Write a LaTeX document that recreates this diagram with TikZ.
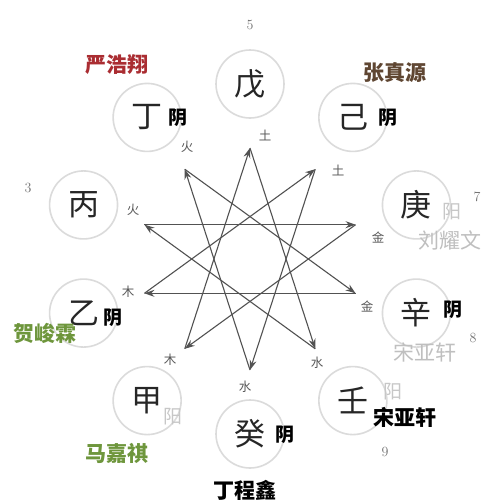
\documentclass[tikz,border=0pt]{standalone}
\usepackage{fontspec}
\newfontfamily\cjk{Noto Sans CJK SC}
\usetikzlibrary{calc,arrows.meta}
\begin{document}
\begin{tikzpicture}[x=1pt,y=1pt,
  stem/.style={circle,draw=black!14,line width=1.6pt,minimum size=68pt,inner sep=0pt,font=\cjk\fontsize{31}{31}\selectfont,text=black!85},
  elem/.style={font=\cjk\fontsize{12.5}{12.5}\selectfont,text=black!65},
  yin/.style={font=\cjk\bfseries\fontsize{19}{19}\selectfont,text=black},
  yang/.style={font=\cjk\fontsize{19}{19}\selectfont,text=black!22},
  num/.style={font=\fontsize{14}{14}\selectfont,text=black!55},
  nm/.style={font=\cjk\bfseries\fontsize{21}{21}\selectfont},
  faint/.style={font=\cjk\fontsize{21}{21}\selectfont,text=black!25},
  ke/.style={draw=black!68,line width=1.1pt,-{Stealth[length=10pt,width=7pt]}}
]
\useasboundingbox (0,0) rectangle (500,-504);
\fill[white] (0,0) rectangle (500,-504);
\coordinate (c) at (250,-259);
% circles
\node[stem] (wu)   at ($(c)+(90:175)$)  {戊};
\node[stem] (ding) at ($(c)+(126:175)$) {丁};
\node[stem] (bing) at ($(c)+(162:175)$) {丙};
\node[stem] (yi)   at ($(c)+(198:175)$) {乙};
\node[stem] (jia)  at ($(c)+(234:175)$) {甲};
\node[stem] (gui)  at ($(c)+(270:175)$) {癸};
\node[stem] (ren)  at ($(c)+(306:175)$) {壬};
\node[stem] (xin)  at ($(c)+(342:175)$) {辛};
\node[stem] (geng) at ($(c)+(18:175)$)  {庚};
\node[stem] (ji)   at ($(c)+(54:175)$)  {己};
% star vertices
\foreach \n/\a in {wu/90,ding/126,bing/162,yi/198,jia/234,gui/270,ren/306,xin/342,geng/18,ji/54}
  \coordinate (p\n) at ($(c)+(\a:111)$);
% control arrows
\draw[ke] (pjia) -- (pwu);
\draw[ke] (pwu) -- (pren);
\draw[ke] (pren) -- (pbing);
\draw[ke] (pbing) -- (pgeng);
\draw[ke] (pgeng) -- (pjia);
\draw[ke] (pyi) -- (pji);
\draw[ke] (pji) -- (pgui);
\draw[ke] (pgui) -- (pding);
\draw[ke] (pding) -- (pxin);
\draw[ke] (pxin) -- (pyi);
% element labels
\node[elem] (ewu)   at (265,-135) {土};
\node[elem] (eji)   at (338,-170) {土};
\node[elem] (egeng) at (378,-238) {金};
\node[elem] (exin)  at (367,-307) {金};
\node[elem] (eren)  at (317,-363) {水};
\node[elem] (egui)  at (245,-387) {水};
\node[elem] (ejia)  at (170,-360) {木};
\node[elem] (eyi)   at (128,-292) {木};
\node[elem] (ebing) at (133,-210) {火};
\node[elem] (eding) at (187,-147) {火};
% yin / yang
\node[yin]  (yding) at (178,-118) {阴};
\node[yin]  (yji)   at (388,-118) {阴};
\node[yang] (ygeng) at (452,-212) {阳};
\node[yin]  (yxin)  at (453,-310) {阴};
\node[yang] (yren)  at (393,-392) {阳};
\node[yin]  (ygui)  at (285,-435) {阴};
\node[yang] (yjia)  at (173,-417) {阳};
\node[yin]  (yyi)   at (113,-318) {阴};
% numbers
\node[num] (n5) at (250,-25) {5};
\node[num] (n3) at (28,-188) {3};
\node[num] (n7) at (477,-197) {7};
\node[num] (n8) at (473,-338) {8};
\node[num] (n9) at (385,-452) {9};
% names
\node[nm,text={rgb,255:red,170;green,45;blue,50}] (m1) at (117,-65) {严浩翔};
\node[nm,text={rgb,255:red,95;green,70;blue,50}] (m2) at (395,-73) {张真源};
\node[faint] (m3) at (450,-240) {刘耀文};
\node[faint] (m4) at (425,-352) {宋亚轩};
\node[nm,text=black] (m5) at (405,-417) {宋亚轩};
\node[nm,text=black] (m6) at (245,-490) {丁程鑫};
\node[nm,text={rgb,255:red,110;green,150;blue,60}] (m7) at (117,-453) {马嘉祺};
\node[nm,text={rgb,255:red,110;green,150;blue,60}] (m8) at (45,-333) {贺峻霖};
\end{tikzpicture}
\end{document}
